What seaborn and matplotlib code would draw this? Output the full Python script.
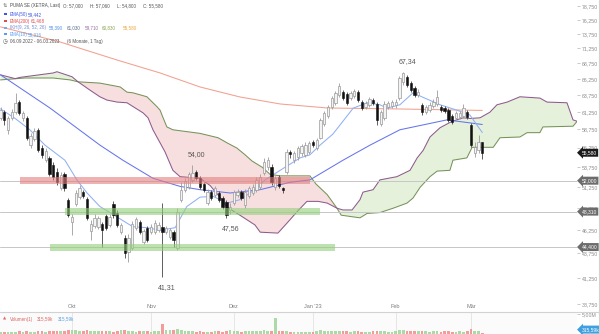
import numpy as np
import matplotlib
matplotlib.use("Agg")
import matplotlib.pyplot as plt
from matplotlib.patches import Rectangle
from matplotlib.lines import Line2D
from matplotlib.ticker import FixedLocator, FuncFormatter, NullLocator, NullFormatter
import seaborn as sns

# ---------------- data ----------------
month_labels = ["Okt", "Nov", "Dez", "Jan '23", "Feb", "Mär"]
month_idx = [19, 40, 62, 83, 105, 125]

opens = [60.38, 61.24, 58.67, 60.38, 61.24, 62.71, 60.38, 60.38, 56.62, 57.43, 58.67, 56.21, 54.63, 54.89, 53.99, 53.09, 51.11, 52.84, 49.67,
         47.14, 49.20, 50.03, 50.62, 49.79, 46.13, 46.69, 46.58, 46.91, 47.82, 46.80, 49.20, 48.16, 46.02, 45.37, 43.88, 44.30, 46.46, 47.14, 44.94, 46.46,
         46.02, 46.02, 46.24, 46.58, 46.02, 45.48, 46.02, 44.30, 49.67, 50.86, 51.23, 52.09, 53.09, 52.34, 51.60, 49.32, 50.62, 50.27, 50.50, 49.91, 49.44, 48.50,
         49.32, 50.27, 50.62, 49.09, 50.15, 50.50, 50.86, 51.23, 52.97, 53.73, 53.73, 51.23, 52.47, 51.11, 53.09, 55.68, 54.63, 55.03, 55.55, 55.29, 55.68,
         57.02, 56.21, 57.57, 59.52, 60.67, 61.97, 62.57, 63.78, 64.23, 63.93, 63.32, 63.62, 64.23, 62.71, 61.97, 62.27, 63.01, 62.42, 59.52, 60.38, 61.97, 62.12,
         62.27, 63.32, 65.78, 66.57, 65.63, 64.85, 63.78, 62.27, 61.24, 61.53, 62.12, 62.42, 61.97, 61.83, 61.53, 60.67, 60.38, 60.52, 60.67, 61.24,
         59.38, 55.55, 55.94, 57.00]
highs = [61.97, 61.53, 60.67, 61.68, 64.08, 63.01, 61.39, 60.67, 58.26, 58.95, 58.95, 56.62, 56.21, 55.16, 54.37, 53.60, 53.09, 53.09, 49.91,
         48.05, 50.86, 51.48, 50.86, 50.03, 47.36, 48.05, 47.82, 47.14, 48.05, 48.05, 49.55, 48.50, 47.02, 45.70, 45.80, 47.25, 47.70, 47.36, 46.35, 46.69,
         46.91, 47.36, 47.14, 49.32, 46.69, 46.46, 46.24, 48.74, 51.84, 52.34, 53.09, 54.00, 53.34, 52.59, 51.84, 50.98, 50.86, 51.35, 50.74, 50.15, 49.67, 49.32,
         50.86, 50.98, 50.86, 50.98, 51.35, 51.60, 52.47, 52.84, 54.89, 55.03, 54.11, 52.59, 52.72, 51.23, 56.08, 55.94, 55.81, 56.48, 56.75, 57.02, 57.16,
         57.29, 57.57, 60.38, 61.39, 62.27, 63.62, 64.39, 65.63, 64.54, 64.23, 64.39, 64.69, 64.54, 63.01, 62.86, 63.47, 63.32, 62.71, 61.53, 62.86, 62.86, 63.01,
         63.16, 66.73, 67.34, 66.89, 65.94, 65.16, 64.69, 62.57, 62.27, 62.71, 63.16, 64.54, 62.27, 62.12, 61.83, 60.95, 61.39, 61.39, 62.42, 61.53,
         59.66, 57.02, 57.98, 57.06]
lows = [60.09, 59.38, 58.12, 60.09, 60.95, 60.81, 59.95, 57.29, 56.21, 57.16, 55.68, 54.89, 54.37, 52.59, 52.09, 51.48, 50.86, 50.74, 47.70,
        45.70, 48.97, 49.79, 49.91, 47.36, 45.15, 46.46, 46.35, 44.41, 46.24, 46.58, 47.59, 46.58, 45.80, 43.26, 42.85, 44.09, 46.24, 45.80, 44.72, 44.94,
        45.80, 45.80, 46.02, 41.31, 45.80, 45.26, 44.41, 44.09, 49.44, 50.62, 50.98, 51.84, 52.09, 50.98, 50.62, 49.09, 49.67, 50.03, 49.44, 48.62, 47.56, 48.05,
        49.09, 50.03, 49.67, 48.74, 49.91, 50.27, 50.62, 50.98, 52.72, 53.34, 51.48, 50.86, 51.11, 50.50, 52.84, 54.89, 54.24, 54.63, 55.16, 55.03, 55.42,
        56.35, 55.94, 57.43, 59.24, 60.38, 61.68, 62.27, 63.47, 63.01, 62.27, 63.01, 63.32, 62.71, 61.53, 61.68, 61.97, 62.27, 59.38, 59.24, 60.09, 61.68, 61.83,
        61.83, 63.01, 65.32, 65.00, 64.23, 63.47, 63.47, 60.81, 60.95, 61.24, 61.83, 62.12, 61.24, 61.10, 59.81, 59.52, 60.09, 60.23, 60.38, 60.23,
        56.35, 55.03, 55.55, 54.80]
closes = [61.53, 60.09, 60.38, 61.24, 62.57, 61.10, 61.10, 57.57, 57.84, 58.53, 55.94, 55.29, 55.81, 52.84, 52.47, 51.84, 52.72, 51.11, 47.93,
          47.70, 50.50, 51.11, 50.15, 47.59, 46.91, 47.59, 47.59, 46.24, 46.46, 47.70, 47.93, 46.80, 46.80, 43.78, 45.37, 46.91, 47.47, 46.02, 46.13, 45.15,
          46.58, 47.02, 46.80, 46.02, 46.46, 46.24, 45.15, 48.27, 50.86, 51.97, 52.84, 52.97, 52.34, 51.23, 50.86, 50.62, 49.91, 51.11, 49.67, 48.85, 47.93, 48.85,
          50.62, 50.62, 49.91, 50.62, 51.11, 51.23, 52.09, 52.47, 54.37, 54.63, 51.84, 52.34, 51.35, 50.86, 55.68, 55.42, 55.55, 56.21, 56.48, 56.62, 56.89,
          56.62, 57.29, 60.09, 61.10, 61.97, 63.32, 64.08, 65.16, 63.32, 62.57, 64.08, 64.39, 63.01, 61.83, 62.57, 63.16, 62.57, 60.09, 61.24, 62.42, 62.57, 62.71,
          62.71, 66.41, 67.20, 65.32, 64.54, 63.78, 64.23, 61.24, 61.97, 62.27, 62.71, 63.47, 61.53, 61.39, 60.09, 59.81, 61.10, 61.10, 61.83, 60.52,
          56.62, 56.35, 57.02, 55.58]
volume_k = [450, 500, 550, 500, 600, 650, 500, 700, 550, 600, 700, 650, 600, 750, 700, 800, 650, 700, 900,
            1100, 950, 850, 800, 900, 750, 700, 650, 800, 700, 650, 600, 650, 900, 1000, 850, 700, 600, 650, 700, 650,
            600, 700, 750, 2600, 1000, 950, 900, 1200, 900, 800, 700, 650, 600, 650, 600, 550, 600, 650, 700, 600, 650, 900,
            700, 650, 600, 700, 650, 750, 700, 800, 900, 850, 800, 3900, 650, 800, 650, 500, 450, 400, 450, 400, 450,
            500, 650, 900, 800, 700, 650, 750, 800, 700, 650, 600, 650, 700, 600, 550, 600, 800, 750, 700, 650, 600, 550,
            650, 1100, 900, 800, 700, 650, 800, 700, 650, 600, 700, 650, 600, 700, 650, 600, 550, 650, 600, 700,
            1300, 800, 700, 316]

ema10_idx = [0, 3.9, 7.8, 11.8, 17.1, 20.3, 23, 26.4, 29.1, 33.6, 35.2, 38.9, 42.4, 46.4, 49.5, 53, 56.5, 60.2, 63.6,
             67.6, 70.3, 74.3, 79.6, 82.2, 84.9, 88.3, 93.7, 97.4, 100.8, 102.7, 106.1, 109.6, 112.3, 116.8, 121.3, 124.7, 128]
ema10_val = [61.7, 60.3, 58.7, 56.6, 54.6, 52.1, 50.5, 48.9, 48.2, 47.0, 46.6, 46.5, 46.2, 46.5, 48.9, 50.0, 50.1, 49.3, 49.7,
             50.9, 52.1, 53.3, 54.9, 55.3, 56.6, 58.1, 61.8, 62.6, 62.3, 61.8, 62.3, 64.1, 63.4, 62.3, 61.5, 60.8, 58.316]
ema50_idx = [0, 13.2, 26.4, 32.5, 40.5, 47.7, 53, 61, 69, 76.9, 82.2, 91, 98.2, 106.1, 118.6, 128]
ema50_val = [66.9, 61.8, 56.6, 54.6, 52.3, 51.3, 50.9, 50.5, 50.9, 51.8, 52.1, 54.6, 56.6, 58.7, 60.1, 59.442]
ema200_idx = [0, 15.8, 31, 42.4, 53, 63.6, 74.3, 86.8, 106.1, 128]
ema200_val = [75.0, 72.35, 69.3, 67.2, 65.0, 63.47, 62.42, 61.83, 61.68, 61.468]

span_a_idx = [0, 6.5, 14, 18.5, 20.6, 26.4, 29.1, 31.8, 33.6, 35.2, 38.9, 41.6, 42.4, 43.2, 44.2, 45.8, 53.0, 57.8, 60.2,
              62.8, 65.0, 66.8, 69.5, 71.6, 74.3, 82.2, 83.8, 86.8, 89.4, 90.5, 95.5, 97.4, 100.8, 104.3, 108.0, 109.6,
              111.5, 114.1, 116.0, 119.4, 120.2, 123.9, 125.3, 130.9, 132.7, 138.0, 139.9, 143.3, 144.1, 152.1, 153.2]
span_a_val = [66.1, 66.4, 66.4, 66.1, 65.8, 65.6, 65.3, 65.0, 64.2, 64.1, 63.5, 62.0, 61.5, 60.4, 59.1, 58.7, 58.2, 57.6, 56.9,
              56.2, 55.3, 54.5, 53.7, 52.8, 52.6, 52.6, 51.6, 50.3, 48.7, 47.9, 47.6, 48.1, 48.2, 48.7, 49.3, 49.9,
              51.2, 52.5, 53.2, 53.3, 54.6, 54.9, 56.3, 56.3, 57.6, 57.7, 58.3, 58.3, 59.1, 59.2, 59.9]
span_b_idx = [0, 3.9, 5.2, 14, 15, 19, 20.6, 23.8, 26.4, 28.3, 31, 33.6, 37.9, 39.2, 40.5, 42.4, 43.7, 45.0, 45.8, 47.7,
              53.0, 55.7, 58.3, 60.2, 63.6, 67.6, 69.0, 73.7, 76.1, 78.8, 81.4, 84.4, 86.8, 89.4, 91.0, 93.4, 95.5, 96.3,
              99.0, 100.8, 105.3, 108.8, 110.7, 112.3, 114.1, 116.8, 120.0, 122.9, 124.7, 127.4, 130.0, 131.9, 134.6,
              138.0, 143.3, 145.2, 150.5, 152.1, 153.2]
span_b_val = [66.9, 66.3, 66.5, 67.2, 67.4, 66.6, 65.8, 64.5, 63.5, 63.0, 62.7, 62.6, 61.1, 60.4, 58.7, 56.9, 55.7, 54.2, 53.3, 52.5,
              52.3, 51.4, 50.0, 48.8, 47.9, 46.8, 46.0, 45.9, 47.0, 48.3, 49.5, 49.5, 49.3, 48.7, 48.5, 48.5, 49.7, 50.6,
              50.9, 52.1, 52.5, 53.3, 54.9, 55.9, 57.7, 59.0, 59.9, 60.4, 60.3, 60.4, 61.2, 62.3, 62.7,
              63.5, 63.3, 62.7, 62.6, 60.1, 59.9]
cloud_cross_idx = [20.6, 89.4]

zone_levels = [52.0, 48.31, 44.4]
zone_start = [5.2, 17.1, 13.2]
zone_end = [82.2, 84.9, 88.9]
zone_kind = ["resistance", "support", "support"]

extreme_idx = [107, 51, 60, 43]
extreme_val = [67.34, 54.00, 47.56, 41.31]
extreme_side = ["high", "high", "low", "low"]

ytick_values = [38.75, 41.25, 43.75, 46.25, 48.75, 51.25, 53.75, 56.25, 58.75, 61.25,
                63.75, 66.25, 68.75, 71.25, 73.75, 76.25, 78.75]

ema50_last, ema200_last, ema10_last = 59.442, 61.468, 58.316
ikh_values = [58.390, 61.030, 59.710, 60.830, 55.580]
volume_last_k = 315.59


def de(v, nd=3):
    return f"{v:.{nd}f}".replace(".", ",")


# ---------------- figure ----------------
sns.set_theme(style="white")
plt.rcParams['font.family'] = ['Liberation Sans', 'DejaVu Sans']

W, H = 600, 334
fig = plt.figure(figsize=(6, 3.34), dpi=100)
fig.patch.set_facecolor("white")
PW = 577 / W
ax = fig.add_axes([0, 22 / H, PW, 312 / H])
axv = fig.add_axes([0, 0, PW, 22 / H])

XL = (-0.133, 153.16)
ax.set_yscale("log")
ax.set_ylim(38.04, 79.95)
ax.set_xlim(*XL)
ax.set_facecolor("white")
for s in ax.spines.values():
    s.set_visible(False)

# Ichimoku cloud fills
a_i, a_v = np.array(span_a_idx), np.array(span_a_val)
b_i, b_v = np.array(span_b_idx), np.array(span_b_val)
bounds = [a_i[0]] + cloud_cross_idx + [a_i[-1]]
fills = ["#e6f1dc", "#f8dfdf", "#e6f1dc"]
for k in range(3):
    lo, hi = bounds[k], bounds[k + 1]
    ma = (a_i >= lo - 1e-9) & (a_i <= hi + 1e-9)
    mb = (b_i >= lo - 1e-9) & (b_i <= hi + 1e-9)
    xs = np.concatenate([a_i[ma], b_i[mb][::-1]])
    ys = np.concatenate([a_v[ma], b_v[mb][::-1]])
    ax.fill(xs, ys, color=fills[k], lw=0, zorder=1)

sns.lineplot(x=span_a_idx, y=span_a_val, ax=ax, color="#76935a", lw=0.75, zorder=2)
sns.lineplot(x=span_b_idx, y=span_b_val, ax=ax, color="#8e5a8e", lw=0.75, zorder=2)

# horizontal levels
for lvl in zone_levels:
    ax.axhline(lvl, color="#c6c6c6", lw=0.7, zorder=2.5)

# EMAs
sns.lineplot(x=ema200_idx, y=ema200_val, ax=ax, color="#f2a08f", lw=0.75, zorder=3)
sns.lineplot(x=ema50_idx, y=ema50_val, ax=ax, color="#6575ea", lw=0.75, zorder=3)
sns.lineplot(x=ema10_idx, y=ema10_val, ax=ax, color="#8eb0f4", lw=0.75, zorder=3)

# candles
o, h, l, c = map(np.array, (opens, highs, lows, closes))
idx = np.arange(len(c))
up = c >= o
ax.vlines(idx[up], l[up], h[up], color="#9c9c9c", lw=0.6, zorder=4)
ax.vlines(idx[~up], l[~up], h[~up], color="#444444", lw=0.6, zorder=4)
bot = np.minimum(o, c)
hgt = np.abs(c - o)
ax.bar(idx[up], hgt[up], bottom=bot[up], width=0.62, color="#f3f3f3",
       edgecolor="#9a9a9a", linewidth=0.5, zorder=5)
ax.bar(idx[~up], hgt[~up], bottom=bot[~up], width=0.62, color="#111111",
       edgecolor="#111111", linewidth=0.4, zorder=5)

# zones
for lvl, s0, e0, kind in zip(zone_levels, zone_start, zone_end, zone_kind):
    col = "#e47f7f" if kind == "resistance" else "#94d07b"
    ax.fill_between([s0, e0], lvl * 0.9918, lvl * 1.0082, color=col, alpha=0.6, lw=0, zorder=6)

# extreme labels
for i, v, side in zip(extreme_idx, extreme_val, extreme_side):
    dy = 5 if side == "high" else -5
    ax.annotate(de(v, 2), xy=(i, v), xytext=(3, dy), textcoords="offset points",
                ha="center", va="bottom" if side == "high" else "top",
                fontsize=5, color="#555555", zorder=8)

# y axis on the right
ax.yaxis.tick_right()
ax.yaxis.set_major_locator(FixedLocator(ytick_values))
ax.yaxis.set_minor_locator(NullLocator())
ax.yaxis.set_major_formatter(FuncFormatter(lambda v, p: de(v)))
ax.yaxis.set_minor_formatter(NullFormatter())
ax.tick_params(axis="y", which="major", right=True, left=False, length=2.5, width=0.6,
               color="#c0c0c0", labelsize=3.8, labelcolor="#8c8c8c", pad=1.2, direction="out")
ax.set_ylabel("")

# month labels inside plot
ax.set_xticks(month_idx)
ax.set_xticklabels(month_labels)
ax.tick_params(axis="x", length=0, labelsize=4.0, labelcolor="#7c7c7c", pad=-5.8, bottom=True)
ax.grid(False)


def tag(axis, y, text, fc, yc="data"):
    axis.annotate(text, xy=(1.0, y), xycoords=("axes fraction", yc), xytext=(3.2, 0),
                  textcoords="offset points", ha="left", va="center", fontsize=3.6,
                  color="white", bbox=dict(boxstyle="larrow,pad=0.3", fc=fc, ec="none"),
                  annotation_clip=False, zorder=20)


tag(ax, closes[-1], de(closes[-1]), "#1a1a1a")
for lvl in zone_levels:
    tag(ax, lvl, de(lvl), "#6c6c6c")

# volume panel
vcol = ["#f28c8c" if cc < oo else "#9ed597" for oo, cc in zip(opens, closes)]
axv.set_facecolor("#fbfbfb")
for m in month_idx:
    axv.axvline(m, color="#e2e2e2", lw=0.6, zorder=1)
axv.bar(idx, volume_k, width=0.72, color=vcol, alpha=0.85, lw=0, zorder=2)
axv.set_xlim(*XL)
axv.set_ylim(0, 5500)
for s in axv.spines.values():
    s.set_visible(False)
axv.set_xticks([])
axv.yaxis.tick_right()
axv.set_yticks([5000])
axv.set_yticklabels(["5,00M"])
axv.tick_params(axis="y", right=True, left=False, length=2.5, width=0.6, color="#c0c0c0",
                labelsize=3.8, labelcolor="#8c8c8c", pad=1.2)
axv.grid(False)
tag(axv, 0.2, de(volume_last_k, 2) + "k", "#3f9fe0", yc="axes fraction")

# frame lines
fig.add_artist(Line2D([0, 1], [22 / H, 22 / H], transform=fig.transFigure, color="#d2d2d2", lw=0.8))
fig.add_artist(Line2D([599.3 / W, 599.3 / W], [0, 1], transform=fig.transFigure, color="#d2d2d2", lw=0.8))


# legend block
FS = 3.25


def ftext(xp, yp, s, color, size=FS, family=None):
    kw = {}
    if family:
        kw["family"] = family
    fig.text(xp / W, 1 - yp / H, s, color=color, fontsize=size, va="center", ha="left", **kw)


def dash(yp, color):
    fig.add_artist(Rectangle((4 / W, 1 - (yp + 1) / H), 3.2 / W, 2 / H,
                             transform=fig.transFigure, color=color, lw=0))


ftext(2.2, 5.7, "⇅", "#666666", 3.8, family=["DejaVu Sans"])
ftext(10, 5.7, "PUMA SE (XETRA, Last)", "#4a4a4a")
ftext(63, 5.7, "O: " + de(opens[-1]), "#555555")
ftext(90, 5.7, "H: " + de(highs[-1]), "#555555")
ftext(117, 5.7, "L: " + de(lows[-1]), "#555555")
ftext(143, 5.7, "C: " + de(closes[-1]), "#555555")

dash(14.3, "#3d55e6")
ftext(10, 14.3, "EMA(50)", "#3d55e6")
ftext(28, 14.3, de(ema50_last), "#3d55e6")

dash(21, "#e34a4a")
ftext(10, 21, "EMA(200)", "#e34a4a")
ftext(31, 21, de(ema200_last), "#e34a4a")

dash(27.7, "#7fa6e6")
ftext(10, 27.7, "IKH(9, 26, 52, 26)", "#6d8fd6")
for xp, v, col in zip([49, 67, 85, 102, 123], ikh_values,
                      ["#4f8ee8", "#5b6c8c", "#9a6aa6", "#8aa34f", "#f0a438"]):
    ftext(xp, 27.7, de(v), col)

dash(34.3, "#5a9df0")
ftext(10, 34.3, "EMA(10)", "#5a9df0")
ftext(28, 34.3, de(ema10_last), "#5a9df0")

ftext(2.2, 41.7, "◷", "#555555", 4.0, family=["DejaVu Sans"])
ftext(10, 41.7, "06.09.2022 - 06.03.2023", "#555555")
ftext(67, 41.7, "(6 Monate, 1 Tag)", "#555555")

ftext(3, 319, "▲", "#e06666", 3.0, family=["DejaVu Sans"])
ftext(10, 319, "Volumen(1)", "#e06666")
ftext(37, 319, de(volume_last_k, 2) + "k", "#e06666")
ftext(58, 319, de(volume_last_k, 2) + "k", "#5aa0e0")

fig.savefig("out.png", dpi=100, facecolor="white")
